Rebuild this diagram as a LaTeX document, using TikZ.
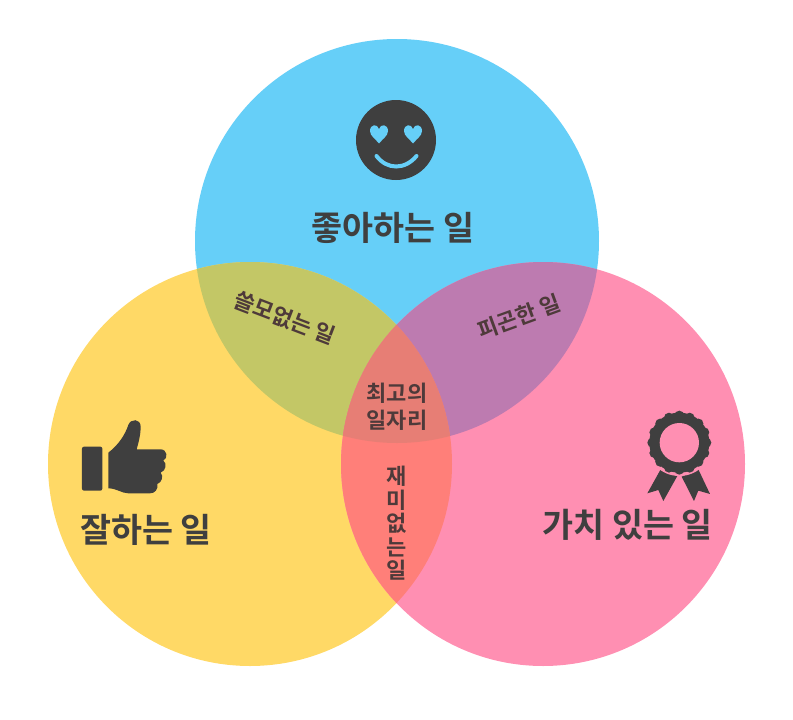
\documentclass[tikz,border=0pt]{standalone}
\usepackage{fontspec}
\setmainfont{Noto Sans CJK KR}[BoldFont={Noto Sans CJK KR Bold}]
\definecolor{cTop}{HTML}{66CFF8}
\definecolor{cLeft}{HTML}{FFD966}
\definecolor{cRight}{HTML}{FF8FB2}
\definecolor{cTL}{HTML}{C3C766}
\definecolor{cTR}{HTML}{BD7BB0}
\definecolor{cLR}{HTML}{FF7F79}
\definecolor{cAll}{HTML}{E77E75}
\definecolor{ink}{HTML}{3F3F3F}
\tikzset{
  bigtext/.style={font=\fontsize{33.7}{36}\selectfont\bfseries,text=ink,inner sep=0pt},
  smalltext/.style={font=\fontsize{22}{27}\selectfont\bfseries,text=ink!92!red,inner sep=0pt,align=center}
}
\def\cT{(397,241) circle [radius=202]}
\def\cL{(250,464) circle [radius=202]}
\def\cR{(543,464) circle [radius=202]}
\begin{document}
\begin{tikzpicture}[x=1pt,y=-1pt]
\useasboundingbox (0,0) rectangle (793,720);
\fill[white] (0,0) rectangle (793,720);
\fill[cTop] \cT;
\fill[cLeft] \cL;
\fill[cRight] \cR;
\begin{scope}\clip \cT; \fill[cTL] \cL; \fill[cTR] \cR; \end{scope}
\begin{scope}\clip \cL; \fill[cLR] \cR; \end{scope}
\begin{scope}\clip \cT; \clip \cL; \fill[cAll] \cR; \end{scope}

% smiley
\begin{scope}[shift={(396,140)}]
\fill[ink] (0,0) circle [radius=40];
\foreach \hx in {-17,17}{
  \fill[cTop] (\hx,3.5) .. controls (\hx-3,-0.5) and (\hx-9,-4) .. (\hx-9,-9)
    .. controls (\hx-9,-16) and (\hx-1.5,-16.5) .. (\hx,-11)
    .. controls (\hx+1.5,-16.5) and (\hx+9,-16) .. (\hx+9,-9)
    .. controls (\hx+9,-4) and (\hx+3,-0.5) .. (\hx,3.5) -- cycle;
}
\draw[cTop,line width=4pt,line cap=round] (-19.5,16) .. controls (-9,30) and (9,30) .. (20.5,16);
\end{scope}

% thumb
\begin{scope}[shift={(70,410)},x=0.3333pt,y=-0.3333pt]
\fill[ink,rounded corners=2pt] (36,110) -- (97,110) -- (97,242) -- (36,242) -- cycle;
\fill[ink] (115,128) .. controls (145,105) and (165,75) .. (175,45)
  .. controls (182,25) and (212,25) .. (212,50)
  .. controls (212,75) and (205,100) .. (200,118)
  -- (272,118) .. controls (292,118) and (295,145) .. (280,152)
  .. controls (292,160) and (288,182) .. (272,188)
  .. controls (282,198) and (275,218) .. (262,222)
  .. controls (265,238) and (255,250) .. (240,250)
  -- (175,250) .. controls (155,250) and (140,235) .. (115,235) -- cycle;
\end{scope}

% medal
\begin{scope}[shift={(630,400)},x=0.3333pt,y=-0.3333pt]
\fill[ink] (92,208) -- (142,228) -- (100,303) -- (85,270) -- (52,280) -- cycle;
\fill[ink] (155,230) -- (205,208) -- (240,282) -- (205,272) -- (192,303) -- cycle;
\fill[cRight] (148,128) circle [radius=100];
\fill[ink] (148,128) circle [radius=90];
\foreach \a in {0,22.5,...,337.5}{
  \fill[ink] (148,128) ++(\a:81) circle [radius=15];
}
\fill[cRight] (148,128) circle [radius=59];
\end{scope}

\node[bigtext] (likes) at (393,228) {좋아하는 일};
\node[bigtext] (good) at (146,530) {잘하는 일};
\node[bigtext] (worth) at (627.5,525) {가치 있는 일};
\node[smalltext,rotate=-21] (useless) at (285,318) {쓸모없는 일};
\node[smalltext,rotate=20] (tiring) at (519,317) {피곤한 일};
\node[smalltext] (best) at (397,407) {최고의\\일자리};
\node[smalltext,font=\fontsize{22}{23.5}\selectfont\bfseries] (boring) at (397,523.5) {재\\미\\없\\는\\일};
\end{tikzpicture}
\end{document}
